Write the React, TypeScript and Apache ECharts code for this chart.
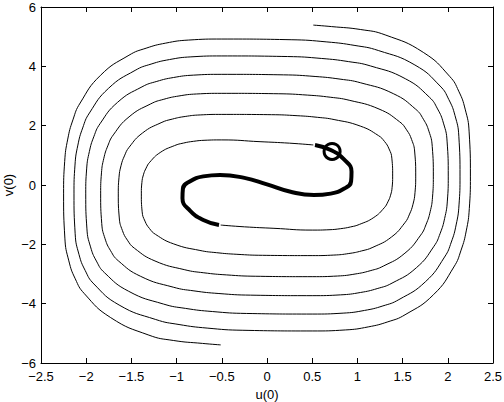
import React, { useEffect, useRef } from "react";
import * as echarts from "echarts";

// Tick settings
const xTicks = { min: -2.5, max: 2.5, interval: 0.5 };
const yTicks = { min: -6, max: 6, interval: 2 };
const xName = "u(0)";
const yName = "v(0)";

// Thin spiral arm starting at the upper end of the thick curve
const armA: [number, number][] = [
  [0.512, 1.35], [0.25, 1.41], [-0.077, 1.46], [-0.5, 1.52],
  [-0.686, 1.508], [-0.815, 1.472], [-0.925, 1.413], [-1.022, 1.329], [-1.182, 1.094], [-1.297, 0.768], [-1.337, 0.57], [-1.367, 0.344], [-1.384, 0.08], [-1.39, -0.3],
  [-1.381, -0.905], [-1.35, -1.217], [-1.301, -1.463], [-1.232, -1.667], [-1.032, -1.986], [-0.742, -2.206], [-0.557, -2.282], [-0.333, -2.336], [-0.05, -2.37], [0.5, -2.38],
  [0.739, -2.362], [0.905, -2.31], [1.047, -2.222], [1.172, -2.099], [1.377, -1.753], [1.525, -1.273], [1.577, -0.981], [1.615, -0.649], [1.637, -0.26], [1.645, 0.3],
  [1.634, 1.112], [1.6, 1.53], [1.544, 1.86], [1.466, 2.133], [1.239, 2.561], [0.909, 2.857], [0.699, 2.959], [0.446, 3.031], [0.124, 3.076], [-0.5, 3.09],
  [-0.78, 3.068], [-0.974, 3.001], [-1.141, 2.89], [-1.286, 2.735], [-1.526, 2.297], [-1.7, 1.689], [-1.761, 1.32], [-1.805, 0.9], [-1.831, 0.409], [-1.84, -0.3],
  [-1.828, -1.298], [-1.791, -1.813], [-1.73, -2.217], [-1.645, -2.554], [-1.397, -3.08], [-1.037, -3.444], [-0.808, -3.569], [-0.532, -3.658], [-0.181, -3.713], [0.5, -3.73],
  [0.815, -3.703], [1.033, -3.624], [1.219, -3.492], [1.383, -3.308], [1.653, -2.787], [1.847, -2.065], [1.916, -1.626], [1.965, -1.127], [1.995, -0.542], [2.005, 0.3],
  [1.992, 1.479], [1.952, 2.086], [1.887, 2.564], [1.796, 2.961], [1.53, 3.583], [1.146, 4.012], [0.9, 4.16], [0.605, 4.265], [0.229, 4.33], [-0.5, 4.35],
  [-0.842, 4.319], [-1.079, 4.228], [-1.282, 4.076], [-1.459, 3.863], [-1.752, 3.262], [-1.964, 2.429], [-2.039, 1.923], [-2.092, 1.346], [-2.124, 0.672], [-2.135, -0.3],
  [-2.122, -1.644], [-2.08, -2.337], [-2.011, -2.883], [-1.915, -3.335], [-1.636, -4.045], [-1.231, -4.534], [-0.973, -4.703], [-0.662, -4.823], [-0.267, -4.897], [0.5, -4.92],
  [0.866, -4.886], [1.12, -4.783], [1.337, -4.612], [1.527, -4.374], [1.841, -3.699], [2.067, -2.763], [2.147, -2.195], [2.204, -1.548], [2.238, -0.791], [2.25, 0.3],
  [2.236, 1.79], [2.192, 2.558], [2.121, 3.162], [2.02, 3.664], [1.729, 4.47], [1.307, 5.06], [1.037, 5.24], [0.713, 5.34], [0.512, 5.39],
];

// Thin spiral arm starting at the lower end of the thick curve
const armB: [number, number][] = [
  [-0.512, -1.35], [-0.25, -1.41], [0.077, -1.46], [0.5, -1.52],
  [0.686, -1.508], [0.815, -1.472], [0.925, -1.413], [1.022, -1.329], [1.182, -1.094], [1.297, -0.768], [1.337, -0.57], [1.367, -0.344], [1.384, -0.08], [1.39, 0.3],
  [1.381, 0.905], [1.35, 1.217], [1.301, 1.463], [1.232, 1.667], [1.032, 1.986], [0.742, 2.206], [0.557, 2.282], [0.333, 2.336], [0.05, 2.37], [-0.5, 2.38],
  [-0.739, 2.362], [-0.905, 2.31], [-1.047, 2.222], [-1.172, 2.099], [-1.377, 1.753], [-1.525, 1.273], [-1.577, 0.981], [-1.615, 0.649], [-1.637, 0.26], [-1.645, -0.3],
  [-1.634, -1.112], [-1.6, -1.53], [-1.544, -1.86], [-1.466, -2.133], [-1.239, -2.561], [-0.909, -2.857], [-0.699, -2.959], [-0.446, -3.031], [-0.124, -3.076], [0.5, -3.09],
  [0.78, -3.068], [0.974, -3.001], [1.141, -2.89], [1.286, -2.735], [1.526, -2.297], [1.7, -1.689], [1.761, -1.32], [1.805, -0.9], [1.831, -0.409], [1.84, 0.3],
  [1.828, 1.298], [1.791, 1.813], [1.73, 2.217], [1.645, 2.554], [1.397, 3.08], [1.037, 3.444], [0.808, 3.569], [0.532, 3.658], [0.181, 3.713], [-0.5, 3.73],
  [-0.815, 3.703], [-1.033, 3.624], [-1.219, 3.492], [-1.383, 3.308], [-1.653, 2.787], [-1.847, 2.065], [-1.916, 1.626], [-1.965, 1.127], [-1.995, 0.542], [-2.005, -0.3],
  [-1.992, -1.479], [-1.952, -2.086], [-1.887, -2.564], [-1.796, -2.961], [-1.53, -3.583], [-1.146, -4.012], [-0.9, -4.16], [-0.605, -4.265], [-0.229, -4.33], [0.5, -4.35],
  [0.842, -4.319], [1.079, -4.228], [1.282, -4.076], [1.459, -3.863], [1.752, -3.262], [1.964, -2.429], [2.039, -1.923], [2.092, -1.346], [2.124, -0.672], [2.135, 0.3],
  [2.122, 1.644], [2.08, 2.337], [2.011, 2.883], [1.915, 3.335], [1.636, 4.045], [1.231, 4.534], [0.973, 4.703], [0.662, 4.823], [0.267, 4.897], [-0.5, 4.92],
  [-0.866, 4.886], [-1.12, 4.783], [-1.337, 4.612], [-1.527, 4.374], [-1.841, 3.699], [-2.067, 2.763], [-2.147, 2.195], [-2.204, 1.548], [-2.238, 0.791], [-2.25, -0.3],
  [-2.236, -1.79], [-2.192, -2.558], [-2.121, -3.162], [-2.02, -3.664], [-1.729, -4.47], [-1.307, -5.06], [-1.037, -5.24], [-0.713, -5.34], [-0.512, -5.39],
];

// Thick S-shaped curve in the centre
const thickCurve: [number, number][] = [
  [-0.531, -1.35], [-0.705, -1.18], [-0.852, -0.86], [-0.935, -0.45], [-0.93, -0.12],
  [-0.855, 0.12], [-0.705, 0.29], [-0.52, 0.34], [-0.25, 0.24], [0, 0.02],
  [0.25, -0.22], [0.52, -0.34], [0.705, -0.29], [0.855, -0.12], [0.93, 0.12],
  [0.935, 0.45], [0.852, 0.86], [0.705, 1.18], [0.531, 1.35],
];

// Circle marker
const marker: [number, number][] = [[0.72, 1.13]];

const FONT = "Liberation Sans, Arial, Helvetica, sans-serif";
const fmt = (v: number) => String(v).replace("-", "\u2212");

export default function App() {
  const ref = useRef<HTMLDivElement>(null);
  useEffect(() => {
    if (!ref.current) return;
    const chart = echarts.init(ref.current, null, { renderer: "svg" });
    const axisCommon = {
      type: "value" as const,
      axisLine: { show: true, onZero: false, lineStyle: { color: "#000", width: 1 } },
      axisTick: { show: true, inside: true, length: 5, lineStyle: { color: "#000", width: 1 } },
      splitLine: { show: false },
    };
    const thin = { color: "#000", width: 1 };
    chart.setOption({
      animation: false,
      backgroundColor: "#fff",
      grid: { left: 41, right: 11, top: 7, bottom: 39, containLabel: false, outerBoundsMode: "none" },
      xAxis: [
        {
          ...axisCommon,
          position: "bottom",
          ...xTicks,
          axisLabel: { color: "#000", fontSize: 13, fontFamily: FONT, margin: 7, formatter: fmt },
          name: xName,
          nameLocation: "middle",
          nameGap: 25,
          nameMoveOverlap: false,
          nameTextStyle: { color: "#000", fontSize: 13, fontFamily: FONT },
        },
        { ...axisCommon, position: "top", ...xTicks, axisLabel: { show: false } },
      ],
      yAxis: [
        {
          ...axisCommon,
          position: "left",
          ...yTicks,
          axisLabel: { color: "#000", fontSize: 13, fontFamily: FONT, margin: 5, formatter: fmt },
          name: yName,
          nameLocation: "middle",
          nameGap: 26,
          nameMoveOverlap: false,
          nameTextStyle: { color: "#000", fontSize: 13, fontFamily: FONT },
        },
        { ...axisCommon, position: "right", ...yTicks, axisLabel: { show: false } },
      ],
      series: [
        { type: "line", data: armA, smooth: 0.5, showSymbol: false, symbol: "none", lineStyle: thin },
        { type: "line", data: armB, smooth: 0.5, showSymbol: false, symbol: "none", lineStyle: thin },
        {
          type: "line", data: thickCurve, smooth: 0.5, showSymbol: false, symbol: "none",
          lineStyle: { color: "#000", width: 4 },
        },
        {
          type: "scatter", data: marker, symbol: "circle", symbolSize: 16,
          itemStyle: { color: "rgba(0,0,0,0)", borderColor: "#000", borderWidth: 3, opacity: 1 },
        },
      ],
    });
    return () => chart.dispose();
  }, []);
  return (
    <div
      ref={ref}
      style={{ position: "absolute", left: 0, top: 0, width: 504, height: 402 }}
    />
  );
}
